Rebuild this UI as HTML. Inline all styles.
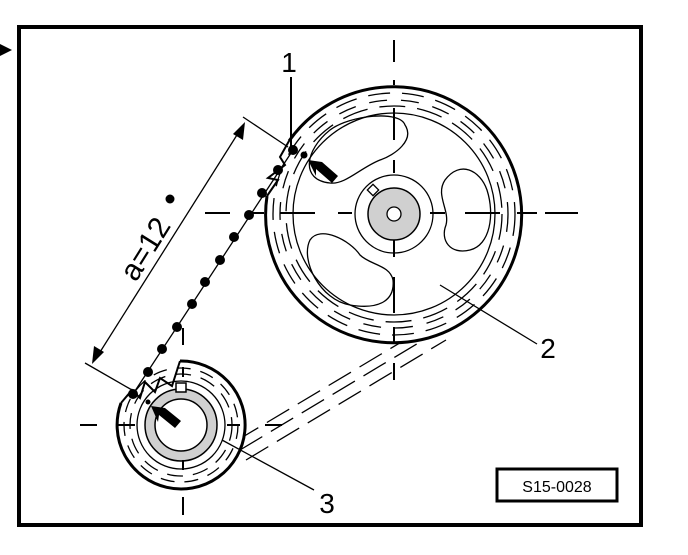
<!DOCTYPE html>
<html><head><style>body{margin:0;background:#fff}svg{display:block}</style></head><body>
<svg width="688" height="555" viewBox="0 0 688 555" xmlns="http://www.w3.org/2000/svg" font-family="Liberation Sans, sans-serif">
<rect x="19" y="27" width="622" height="498" fill="none" stroke="#000" stroke-width="4"/>
<polygon points="0,44 12,50 0,56" fill="#000"/>
<!-- belt dashed lines -->
<g stroke="#000" stroke-width="1.3" stroke-dasharray="26,10" fill="none">
<path d="M240 450L440 330"/><path d="M246 460L446 340"/><path d="M236 441L433 323"/>
</g>
<!-- big gear -->
<circle cx="394" cy="214" r="128" fill="#fff" stroke="none"/>
<path d="M289 141 A128 128 0 1 1 267 196" fill="none" stroke="#000" stroke-width="3"/>
<g fill="none" stroke="#000" stroke-width="1.3">
<circle cx="394" cy="214" r="121" stroke-dasharray="22,12"/>
<circle cx="394" cy="214" r="114" stroke-dasharray="18,14"/>
<circle cx="394" cy="214" r="108" stroke-dasharray="26,12"/>
<circle cx="394" cy="214" r="101"/>
<circle cx="394" cy="214" r="39"/>
<path d="M330 183 C300 180 305 150 330 130 C350 115 400 110 405 125 C415 140 395 155 380 160 C360 168 345 185 330 183Z"/>
<path d="M445 180 C460 160 480 170 487 190 C495 215 490 245 470 250 C450 255 440 240 446 225 C450 210 435 195 445 180Z"/>
<path d="M310 240 C300 260 320 300 350 305 C380 310 395 300 393 280 C390 265 370 265 360 255 C350 240 320 225 310 240Z"/>
</g>
<circle cx="394" cy="214" r="26" fill="#d0d0d0" stroke="#000" stroke-width="1.5"/>
<circle cx="394" cy="214" r="7" fill="#fff" stroke="#000" stroke-width="1.3"/>
<rect x="369" y="186" width="8" height="8" fill="#fff" stroke="#000" stroke-width="1.3" transform="rotate(45 373 190)"/>
<!-- small gear -->
<circle cx="181" cy="425" r="64" fill="#fff" stroke="none"/>
<path d="M180 361 A64 64 0 1 1 121 403" fill="none" stroke="#000" stroke-width="3"/>
<g fill="none" stroke="#000" stroke-width="1.3">
<circle cx="181" cy="425" r="57" stroke-dasharray="14,10"/>
<circle cx="181" cy="425" r="51" stroke-dasharray="16,10"/>
<circle cx="181" cy="425" r="44"/>
</g>
<circle cx="181" cy="425" r="36" fill="#d0d0d0" stroke="#000" stroke-width="1.5"/>
<circle cx="181" cy="425" r="26" fill="#fff" stroke="#000" stroke-width="1.5"/>
<rect x="176" y="383" width="10" height="9" fill="#fff" stroke="#000" stroke-width="1.5"/>
<!-- center lines (on top) -->
<g stroke="#000" stroke-width="2" fill="none">
<path d="M394 40V62 M394 80V85 M394 108V140 M394 160V173 M394 240V257 M394 277V313 M394 327V343 M394 363V380"/>
<path d="M205 213H230 M250 213H264 M280 213H315 M338 213H352 M430 213H445 M465 213H500 M517 213H537 M545 213H578"/>
<path d="M80 425H97 M117 425H135 M227 425H240 M265 425H282"/>
<path d="M183 328V345 M183 367V377 M183 460V470 M183 497V515"/>
</g>
<!-- teeth notches -->
<path d="M121 403 L132 390 L140 398 L145 382 L155 392 L160 378 L172 386 L180 361" fill="none" stroke="#000" stroke-width="2"/>
<path d="M267 196 L278 180 L268 178 L285 165 L280 157 L289 141" fill="none" stroke="#000" stroke-width="2"/>
<!-- chain -->
<line x1="133" y1="394" x2="293" y2="150" stroke="#000" stroke-width="1.3"/>
<g fill="#000">
<circle cx="133" cy="394" r="5"/><circle cx="148" cy="372" r="5"/><circle cx="162" cy="349" r="5"/>
<circle cx="177" cy="327" r="5"/><circle cx="192" cy="304" r="5"/><circle cx="205" cy="282" r="5"/>
<circle cx="220" cy="260" r="5"/><circle cx="234" cy="237" r="5"/><circle cx="249" cy="215" r="5"/>
<circle cx="262" cy="193" r="5"/><circle cx="278" cy="170" r="5"/><circle cx="293" cy="150" r="5"/>
<circle cx="170" cy="199" r="4.5"/>
<circle cx="304" cy="155" r="3.5"/><circle cx="148" cy="402" r="2.5"/>
</g>
<!-- dimension -->
<g stroke="#000" stroke-width="1.3">
<line x1="243" y1="117" x2="288" y2="147"/><line x1="85" y1="363" x2="132" y2="390"/>
<line x1="242" y1="127" x2="95" y2="360"/>
</g>
<polygon points="245,122 243,140 233,134" fill="#000"/>
<polygon points="92,364 94,346 104,352" fill="#000"/>
<text x="0" y="0" font-size="30" transform="translate(147,250) rotate(-58)" text-anchor="middle" dominant-baseline="middle">a=12</text>
<!-- thick arrows -->
<polygon points="308,160 322,162 338,176 332,183 316,169 316,176" fill="#000"/>
<polygon points="151,406 165,408 181,421 175,428 159,415 158,422" fill="#000"/>
<!-- labels -->
<g stroke="#000" stroke-width="1.3">
<line x1="291" y1="77" x2="291" y2="150" stroke-width="2"/>
<line x1="440" y1="285" x2="537" y2="344"/>
<line x1="222" y1="440" x2="314" y2="490"/>
</g>
<text x="289" y="72" font-size="28" text-anchor="middle">1</text>
<text x="548" y="358" font-size="28" text-anchor="middle">2</text>
<text x="327" y="513" font-size="28" text-anchor="middle">3</text>
<rect x="497" y="469" width="120" height="32" fill="#fff" stroke="#000" stroke-width="3"/>
<text x="557" y="492" font-size="16" text-anchor="middle">S15-0028</text>
</svg>
</body></html>
